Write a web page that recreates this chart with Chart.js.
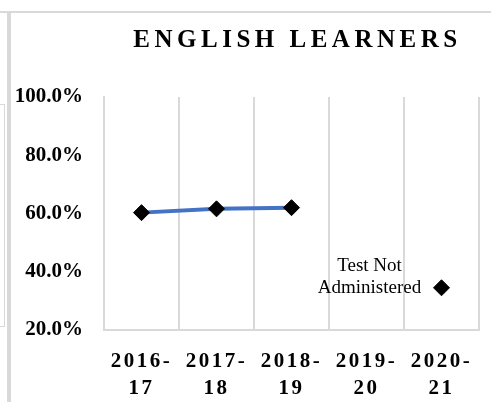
<!doctype html>
<html lang="en">
<head>
<meta charset="UTF-8">
<title>English Learners</title>
<style>
    html, body { margin: 0; padding: 0; background: #fff; }
    body { width: 491px; height: 402px; overflow: hidden; position: relative; }
    #myChart { position: absolute; left: 0; top: 0; }
    .edge { position: absolute; background: #d9d9d9; }
</style>
</head>
<body>
<canvas id="myChart" width="491" height="402"></canvas>
<div class="edge" style="left:0;top:11px;width:491px;height:2px"></div>
<div class="edge" style="left:7px;top:11px;width:4px;height:391px"></div>
<div style="position:absolute;left:-10px;top:104px;width:13px;height:221px;border:1px solid #d9d9d9"></div>
<script src="https://cdn.jsdelivr.net/npm/chart.js@4/dist/chart.umd.min.js"></script>
<script>
    var chartTitle = "ENGLISH LEARNERS";
    var years = [["2016-", "17"], ["2017-", "18"], ["2018-", "19"], ["2019-", "20"], ["2020-", "21"]];
    var proficiency = [60.3, 61.6, 62.0, null, 34.5];
    var pointNotes = [null, null, null, null, ["Test Not", "Administered"]];
    var yMin = 20, yMax = 100, yStep = 20;

    var serif = "'Liberation Serif', 'Times New Roman', serif";

    // title with letter spacing (canvas letterSpacing)
    var titlePlugin = {
        id: "spacedTitle",
        afterDraw: function (chart) {
            var ctx = chart.ctx;
            var area = chart.chartArea;
            ctx.save();
            ctx.font = "bold 25px " + serif;
            ctx.letterSpacing = "4.5px";
            ctx.fillStyle = "#000";
            ctx.textAlign = "center";
            ctx.textBaseline = "middle";
            ctx.fillText(chartTitle, (area.left + area.right) / 2 + 6, 41);
            ctx.restore();
        }
    };

    // note text next to a point
    var notePlugin = {
        id: "pointNotes",
        afterDatasetsDraw: function (chart) {
            var ctx = chart.ctx;
            var meta = chart.getDatasetMeta(0);
            ctx.save();
            ctx.font = "19px " + serif;
            ctx.fillStyle = "#000";
            ctx.textAlign = "center";
            ctx.textBaseline = "middle";
            pointNotes.forEach(function (lines, i) {
                if (!lines) return;
                var pt = meta.data[i];
                var n = lines.length;
                lines.forEach(function (line, j) {
                    ctx.fillText(line, pt.x - 72, pt.y - (n - 1 - j) * 22);
                });
            });
            ctx.restore();
        }
    };

    // letter spacing on the category labels
    var spacedTicks = {
        id: "spacedTicks",
        beforeDraw: function (chart) {
            var xs = chart.scales.x;
            if (xs._spaced) return;
            var orig = xs.drawLabels;
            xs.drawLabels = function (area) {
                this.ctx.save();
                this.ctx.letterSpacing = "2.5px";
                orig.call(this, area);
                this.ctx.restore();
            };
            xs._spaced = true;
        }
    };

    var ctx = document.getElementById("myChart").getContext("2d");
    var myChart = new Chart(ctx, {
        type: "line",
        data: {
            labels: years,
            datasets: [{
                label: "English Learners",
                data: proficiency,
                borderColor: "#4472C4",
                borderWidth: 4,
                pointStyle: "rectRot",
                pointRadius: 8,
                pointBorderWidth: 1,
                pointBackgroundColor: "#000",
                pointBorderColor: "#000",
                spanGaps: false,
                tension: 0
            }]
        },
        options: {
            responsive: false,
            animation: false,
            layout: { padding: { top: 97, right: 12, bottom: 0, left: 0 } },
            plugins: {
                legend: { display: false },
                title: { display: false },
                tooltip: { enabled: false }
            },
            scales: {
                x: {
                    offset: true,
                    grid: { color: "#d9d9d9", lineWidth: 2, drawTicks: false, offset: true },
                    border: { color: "#d9d9d9", width: 2 },
                    ticks: {
                        color: "#000",
                        padding: 18,
                        maxRotation: 0,
                        autoSkip: false,
                        font: { family: serif, size: 21, weight: "bold", lineHeight: 1.3 }
                    },
                    afterFit: function (scale) { scale.height = 72; }
                },
                y: {
                    min: yMin,
                    max: yMax,
                    grid: { display: false, drawTicks: false },
                    border: { display: true, color: "#d9d9d9", width: 2 },
                    ticks: {
                        stepSize: yStep,
                        color: "#000",
                        padding: 21,
                        font: { family: serif, size: 21, weight: "bold" },
                        callback: function (v) { return v.toFixed(1) + "%"; }
                    },
                    afterFit: function (scale) { scale.width = 104; }
                }
            }
        },
        plugins: [titlePlugin, notePlugin, spacedTicks]
    });
</script>
</body>
</html>
